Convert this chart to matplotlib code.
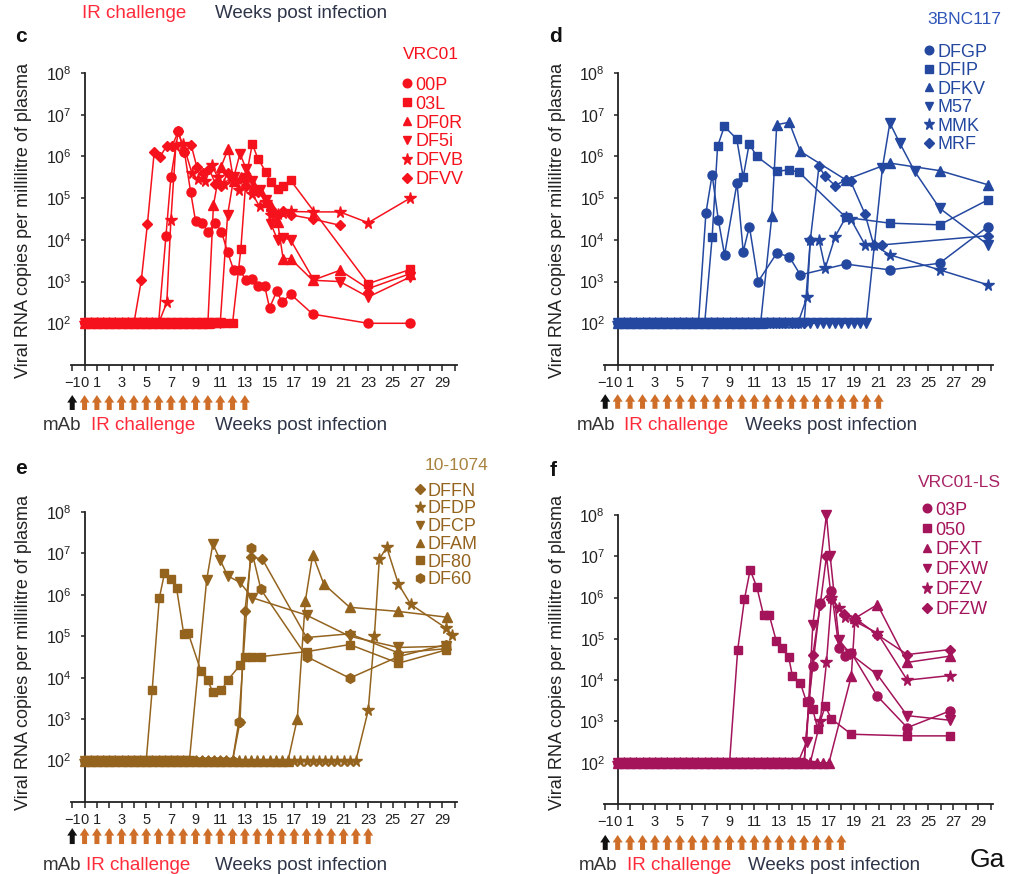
import matplotlib.pyplot as plt
import matplotlib.transforms as mtransforms
from matplotlib.lines import Line2D
from matplotlib.ticker import NullLocator

plt.rcParams['font.family'] = ['Liberation Sans', 'DejaVu Sans']

DETECTION_LIMIT = 100

# twice-weekly sampling while the animals were still undetectable
pre_sampling = [0, 0.5, 1.0, 1.5, 2.0, 2.5, 3.0, 3.5, 4.0, 4.5, 5.0, 5.5, 6.0, 6.5,
                7.0, 7.5, 8.0, 8.5, 9.0, 9.5, 10.0, 10.5, 11.0, 11.5, 12.0, 12.5,
                13.0, 13.5, 14.0, 14.5, 15.0, 15.5, 16.0, 16.5, 17.0, 17.5, 18.0,
                18.5, 19.0, 19.5, 20.0, 20.5, 21.0, 21.5, 22.0, 22.5]

# ---- c: VRC01 ----
c_names = ['00P', '03L', 'DF0R', 'DF5i', 'DFVB', 'DFVV']
c_markers = ['o', 's', '^', 'v', '*', 'D']
c_onset = [6.0, 12.3, 10.0, 11.0, 6.2, 4.0]
c_weeks = [
    [6.6, 7.0, 7.6, 8.1, 8.6, 9.0, 9.5, 10.0, 10.6, 11.1, 11.6, 12.1, 12.6, 13.1,
     13.6, 14.1, 14.6, 15.0, 15.6, 16.0, 16.7, 18.5, 23.0, 26.4],
    [12.67, 13.1, 13.6, 14.05, 14.7, 15.1, 15.65, 16.1, 16.7, 23.0, 26.4],
    [10.45, 10.8, 11.07, 11.65, 12.1, 12.7, 13.2, 13.7, 14.2, 14.7, 15.1, 15.65,
     16.1, 16.7, 18.5, 20.7, 23.0, 26.4],
    [11.6, 12.1, 12.6, 13.1, 13.6, 14.2, 14.7, 15.1, 15.65, 16.1, 16.7, 18.6, 20.7,
     23.0, 26.4],
    [6.67, 7.0, 7.4, 8.0, 8.7, 9.2, 9.8, 10.3, 10.8, 11.3, 11.9, 12.5, 13.1, 13.6,
     14.2, 14.7, 15.1, 15.65, 16.1, 16.7, 18.5, 20.7, 23.0, 26.4],
    [4.6, 5.1, 5.65, 6.1, 6.65, 7.1, 7.6, 8.1, 8.65, 9.1, 9.6, 10.1, 10.6, 11.1,
     11.6, 12.2, 13.1, 14.1, 15.1, 15.6, 16.1, 16.7, 18.5, 20.7],
]
c_log = [
    [4.1, 5.5, 6.6, 6.1, 5.15, 4.45, 4.4, 4.2, 4.4, 4.2, 3.7, 3.27, 3.27, 3.03,
     3.07, 2.9, 2.9, 2.37, 2.78, 2.5, 2.7, 2.22, 2.0, 2.0],
    [3.77, 5.5, 6.3, 5.95, 5.63, 5.39, 5.23, 5.3, 5.43, 2.95, 3.29],
    [4.83, 5.4, 5.75, 6.19, 5.4, 5.5, 5.6, 5.3, 5.2, 4.9, 4.8, 4.43, 3.55, 3.55,
     3.03, 3.27, 2.83, 3.19],
    [4.6, 5.5, 6.07, 5.7, 5.4, 5.2, 4.95, 4.39, 4.0, 4.05, 4.0, 3.03, 3.0, 2.63, 3.11],
    [2.5, 4.47, 6.25, 6.3, 5.6, 5.45, 5.4, 5.8, 5.5, 5.35, 5.5, 5.2, 5.4, 5.1, 4.8,
     4.9, 4.6, 4.63, 4.65, 4.68, 4.67, 4.67, 4.41, 5.0],
    [3.03, 4.39, 6.11, 5.98, 6.25, 6.25, 6.6, 6.1, 6.27, 5.75, 5.6, 5.7, 5.35, 5.3,
     5.6, 5.4, 5.3, 5.15, 4.75, 4.6, 4.7, 4.6, 4.5, 4.35],
]
c_challenges = [0, 1, 2, 3, 4, 5, 6, 7, 8, 9, 10, 11, 12, 13]

# ---- d: 3BNC117 ----
d_names = ['DFGP', 'DFIP', 'DFKV', 'M57', 'MMK', 'MRF']
d_markers = ['o', 's', '^', 'v', '*', 'D']
d_onset = [6.6, 7.1, 11.8, 20.3, 14.6, 15.0]
d_weeks = [
    [7.1, 7.6, 8.1, 8.6, 9.6, 10.1, 10.6, 11.3, 12.8, 13.8, 14.7, 18.35, 21.9, 25.9, 29.8],
    [7.6, 8.04, 8.58, 9.58, 10.1, 10.58, 11.2, 12.8, 13.8, 14.6, 18.35, 21.9, 25.9, 29.8],
    [12.4, 12.8, 13.8, 14.7, 18.35, 21.9, 25.9, 29.8],
    [21.3, 21.9, 22.7, 23.9, 25.9, 29.8],
    [15.25, 15.5, 16.2, 16.7, 17.5, 18.35, 18.75, 19.9, 20.6, 21.9, 25.9, 29.8],
    [15.5, 16.2, 16.7, 17.5, 18.35, 18.75, 19.9, 20.6, 21.3, 29.8],
]
d_log = [
    [4.64, 5.56, 4.48, 3.64, 5.36, 3.72, 4.32, 3.0, 3.68, 3.6, 3.16, 3.42, 3.28, 3.44, 4.32],
    [4.06, 6.24, 6.72, 6.42, 5.5, 6.3, 6.0, 5.64, 5.68, 5.62, 4.54, 4.4, 4.36, 4.96],
    [4.56, 6.76, 6.82, 6.12, 5.44, 5.84, 5.66, 5.32],
    [5.72, 6.8, 6.32, 5.64, 4.76, 3.88],
    [2.64, 4.0, 4.0, 3.32, 4.08, 4.54, 4.5, 3.88, 3.88, 3.64, 3.28, 2.92],
    [4.0, 5.76, 5.52, 5.3, 5.44, 5.4, 4.62, 3.88, 3.88, 4.1],
]
d_challenges = [0, 1, 2, 3, 4, 5, 6, 7, 8, 9, 10, 11, 12, 13, 14, 15, 16, 17, 18,
                19, 20, 21]

# ---- e: 10-1074 ----
e_names = ['DFFN', 'DFDP', 'DFCP', 'DFAM', 'DF80', 'DF60']
e_markers = ['D', '*', 'v', '^', 's', 'h']
e_onset = [12.3, 22.4, 8.5, 16.7, 5.0, 12.0]
e_weeks = [
    [12.6, 13.0, 13.5, 14.4, 18.0, 21.5, 25.45, 29.3],
    [23.0, 23.5, 23.9, 24.5, 25.45, 26.45, 29.3, 29.8],
    [9.9, 10.4, 11.0, 11.6, 12.6, 13.6, 18.0, 21.5, 25.45, 29.3],
    [17.25, 17.9, 18.5, 19.4, 21.5, 25.45, 29.4],
    [5.48, 6.06, 6.48, 7.0, 7.46, 8.04, 8.4, 9.44, 9.97, 10.4, 11.1, 11.6, 12.6,
     13.0, 13.6, 14.3, 18.0, 21.5, 25.45, 29.3],
    [12.5, 13.5, 14.3, 18.0, 21.5, 25.45, 29.3],
]
e_log = [
    [2.93, 5.6, 6.91, 6.87, 4.97, 5.06, 4.6, 4.7],
    [3.21, 5.0, 6.86, 7.15, 6.26, 5.77, 5.2, 5.04],
    [6.36, 7.23, 6.84, 6.46, 6.3, 5.93, 5.51, 5.0, 4.73, 4.76],
    [3.01, 5.85, 6.97, 6.26, 5.7, 5.6, 5.46],
    [3.7, 5.92, 6.52, 6.38, 6.16, 5.06, 5.08, 4.16, 3.94, 3.66, 3.7, 3.94, 4.3,
     4.51, 4.51, 4.51, 4.63, 4.8, 4.35, 4.67],
    [2.93, 7.13, 6.13, 4.51, 3.99, 4.51, 4.8],
]
e_challenges = [0, 1, 2, 3, 4, 5, 6, 7, 8, 9, 10, 11, 12, 13, 14, 15, 16, 17, 18,
                19, 20, 21, 22, 23]

# ---- f: VRC01-LS ----
f_names = ['03P', '050', 'DFXT', 'DFXW', 'DFZV', 'DFZW']
f_markers = ['o', 's', '^', 'v', '*', 'D']
f_onset = [15.0, 9.0, 17.3, 14.9, 15.8, 15.3]
f_weeks = [
    [15.4, 15.7, 16.3, 17.2, 17.8, 18.3, 18.8, 20.9, 23.3, 26.7],
    [9.66, 10.2, 10.66, 11.2, 11.74, 12.2, 12.77, 13.2, 13.76, 14.06, 14.7, 15.2,
     15.7, 16.1, 16.7, 17.2, 18.8, 23.3, 26.7],
    [18.8, 19.1, 20.9, 23.3, 26.7],
    [15.2, 15.7, 16.8, 17.1, 17.8, 18.7, 20.9, 23.3, 26.7],
    [16.3, 16.8, 17.2, 17.8, 18.3, 19.1, 20.9, 23.3, 26.7],
    [15.7, 16.3, 16.8, 17.2, 18.2, 19.1, 20.9, 23.3, 26.7],
]
f_log = [
    [3.5, 4.34, 5.87, 6.17, 4.78, 4.58, 4.66, 3.61, 2.85, 3.25],
    [4.74, 5.96, 6.67, 6.25, 5.57, 5.57, 4.94, 4.78, 4.56, 4.1, 3.93, 3.47, 3.29,
     2.82, 3.37, 3.06, 2.69, 2.65, 2.65],
    [4.1, 5.5, 5.83, 4.43, 4.58],
    [2.5, 5.34, 8.0, 7.0, 4.98, 4.64, 4.13, 3.14, 3.03],
    [3.0, 4.43, 5.99, 5.75, 5.53, 5.42, 5.14, 4.0, 4.11],
    [4.6, 5.83, 7.0, 5.97, 5.6, 5.5, 5.1, 4.62, 4.74],
]
f_challenges = [0, 1, 2, 3, 4, 5, 6, 7, 8, 9, 10, 11, 12, 13, 14, 15, 16, 17, 18]

mab_week = -1
marker_size = {'o': 6.5, 's': 6, '^': 6.5, 'v': 6.5, '*': 8.5, 'D': 5, 'h': 7}

xtick_major = [-1, 0, 1, 3, 5, 7, 9, 11, 13, 15, 17, 19, 21, 23, 25, 27, 29]
xtick_minor = [2, 4, 6, 8, 10, 12, 14, 16, 18, 20, 22, 24, 26, 28, 30]
ytick_vals = [1e2, 1e3, 1e4, 1e5, 1e6, 1e7, 1e8]

ARROW_ORANGE = '#cf6e28'
TICK_COLOR = '#222222'

W, H = 1009, 874
fig = plt.figure(figsize=(W / 100, H / 100), dpi=100)


def px_rect(left, top, right, bottom):
    return [left / W, 1 - bottom / H, (right - left) / W, (bottom - top) / H]


panels = [
    dict(rect=px_rect(71, 73, 457, 365), names=c_names, markers=c_markers, onset=c_onset,
         weeks=c_weeks, logs=c_log, challenges=c_challenges, color='#f5121c',
         title='VRC01', title_color='#f5121c', title_pos=(0.860, 1.062),
         leg_pos=(0.859, 0.987), spacing=0.105, arrow_y=(-0.103, -0.154),
         letter='c', letter_px=(15, 37), label_px=(24, 220),
         text_px=[(43, 425), (91, 425), (215, 425)]),
    dict(rect=px_rect(604, 73, 993, 365), names=d_names, markers=d_markers, onset=d_onset,
         weeks=d_weeks, logs=d_log, challenges=d_challenges, color='#2448a0',
         title='3BNC117', title_color='#2f56b8', title_pos=(0.830, 1.182),
         leg_pos=(0.824, 1.100), spacing=0.083, arrow_y=(-0.100, -0.150),
         letter='d', letter_px=(549, 37), label_px=(557, 220),
         text_px=[(577, 425), (624, 425), (745, 425)]),
    dict(rect=px_rect(71, 512, 457, 802), names=e_names, markers=e_markers, onset=e_onset,
         weeks=e_weeks, logs=e_log, challenges=e_challenges, color='#94641f',
         title='10-1074', title_color='#a8823f', title_pos=(0.915, 1.162),
         leg_pos=(0.892, 1.101), spacing=0.04, arrow_y=(-0.090, -0.145),
         letter='e', letter_px=(15, 469), label_px=(24, 652),
         text_px=[(43, 865), (86, 865), (215, 865)]),
    dict(rect=px_rect(604, 515, 993, 804), names=f_names, markers=f_markers, onset=f_onset,
         weeks=f_weeks, logs=f_log, challenges=f_challenges, color='#a3145b',
         title='VRC01-LS', title_color='#a82465', title_pos=(0.807, 1.114),
         leg_pos=(0.819, 1.046), spacing=0.16, arrow_y=(-0.107, -0.159),
         letter='f', letter_px=(550, 470), label_px=(557, 652),
         text_px=[(579, 865), (627, 865), (748, 865)]),
]

for p in panels:
    ax = fig.add_axes(p['rect'])
    col = p['color']
    handles = []
    for i, name in enumerate(p['names']):
        mk = p['markers'][i]
        base = [w for w in pre_sampling if w <= p['onset'][i]]
        x = base + p['weeks'][i]
        y = [DETECTION_LIMIT] * len(base) + [10 ** v for v in p['logs'][i]]
        ax.plot(x, y, color=col, lw=1.1, marker=mk, ms=marker_size[mk],
                mec=col, mfc=col, clip_on=False, zorder=3)
        handles.append(Line2D([], [], color=col, ls='none', marker=mk,
                              ms=marker_size[mk] * 0.95, mec=col, mfc=col))

    ax.set_yscale('log')
    ax.set_ylim(10, 1e8)
    ax.set_xlim(-1.1, 30.2)
    ax.spines[['top', 'right']].set_visible(False)
    ax.spines['left'].set_position(('data', 0))
    for s in ['left', 'bottom']:
        ax.spines[s].set_linewidth(1.3)
        ax.spines[s].set_color('#222222')
    ax.set_yticks(ytick_vals)
    ax.yaxis.set_minor_locator(NullLocator())
    ax.set_xticks(xtick_major)
    ax.set_xticklabels([str(v) if v >= 0 else '\u2212' + str(-v) for v in xtick_major])
    ax.set_xticks(xtick_minor, minor=True)
    ax.tick_params(axis='x', which='major', length=4, width=1.1, labelsize=10.5,
                   colors=TICK_COLOR, pad=4)
    ax.tick_params(axis='x', which='minor', length=4, width=1.1, colors=TICK_COLOR)
    ax.tick_params(axis='y', which='major', length=3, width=1.1, labelsize=11.5,
                   colors=TICK_COLOR, pad=6)

    # legend + group name
    ax.legend(handles, p['names'], loc='upper left', bbox_to_anchor=p['leg_pos'],
              frameon=False, borderpad=0, borderaxespad=0, handlelength=0.5,
              handletextpad=0.2, labelspacing=p['spacing'], fontsize=13, labelcolor=col)
    ax.text(p['title_pos'][0], p['title_pos'][1], p['title'], transform=ax.transAxes,
            ha='left', va='center', fontsize=12.5, color=p['title_color'], clip_on=False)

    # mAb and challenge arrows under the axis
    trans = mtransforms.blended_transform_factory(ax.transData, ax.transAxes)
    tip, tail = p['arrow_y']
    arrow_weeks = [mab_week] + p['challenges']
    arrow_cols = ['#111111'] + [ARROW_ORANGE] * len(p['challenges'])
    for wk, ac in zip(arrow_weeks, arrow_cols):
        ax.annotate('', xy=(wk, tip), xytext=(wk, tail), xycoords=trans, textcoords=trans,
                    annotation_clip=False,
                    arrowprops=dict(arrowstyle='simple,head_length=0.45,head_width=0.6,tail_width=0.3',
                                    color=ac, shrinkA=0, shrinkB=0, mutation_scale=12, lw=0))

    # panel letter, y label and bottom caption
    lx, ly = p['letter_px']
    fig.text(lx / W, 1 - ly / H, p['letter'], fontsize=15, fontweight='bold',
             ha='left', va='center', color='#111111')
    yx, yy = p['label_px']
    fig.text(yx / W, 1 - yy / H, 'Viral RNA copies per millilitre of plasma', rotation=90,
             fontsize=13, ha='center', va='center', color='#222222')
    (mx, my), (ix, iy), (wx, wy) = p['text_px']
    fig.text(mx / W, 1 - my / H, 'mAb', fontsize=13.5, ha='left', va='center', color='#333333')
    fig.text(ix / W, 1 - iy / H, 'IR challenge', fontsize=13.5, ha='left', va='center',
             color='#ff2a3a')
    fig.text(wx / W, 1 - wy / H, 'Weeks post infection', fontsize=13.5, ha='left',
             va='center', color='#2e3548')

# caption fragment of the panel above, cut off at the top
fig.text(82 / W, 1 - 13 / H, 'IR challenge', fontsize=13.5, ha='left', va='center',
         color='#ff2a3a')
fig.text(215 / W, 1 - 13 / H, 'Weeks post infection', fontsize=13.5, ha='left',
         va='center', color='#2e3548')
fig.text(970 / W, 1 - 860 / H, 'Ga', fontsize=19, ha='left', va='center', color='#111111')

fig.savefig('out.png', dpi=100)
